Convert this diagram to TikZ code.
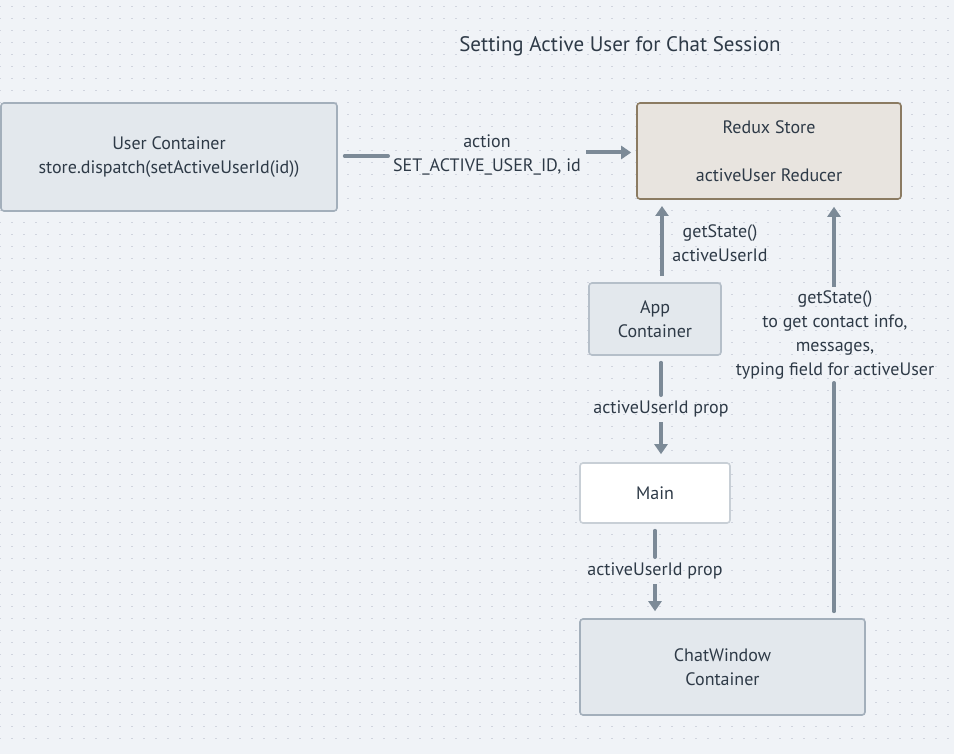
\documentclass[tikz,border=0pt]{standalone}
\usepackage{fontspec}
\setmainfont{PT Sans}
\usetikzlibrary{arrows.meta,calc}
\definecolor{bg}{HTML}{F0F3F7}
\definecolor{dotc}{HTML}{D0D4DE}
\definecolor{txt}{HTML}{2E3A47}
\definecolor{boxfill}{HTML}{E3E8ED}
\definecolor{boxline}{HTML}{A3AFBB}
\definecolor{redfill}{HTML}{E8E4DF}
\definecolor{redline}{HTML}{8B7B62}
\definecolor{arr}{HTML}{7C8A97}
\tikzset{
  box/.style={draw=boxline, fill=boxfill, line width=1.6pt, rounded corners=3pt, align=center,
    font=\fontsize{18}{24}\selectfont, text=txt, inner sep=0pt},
  lbl/.style={align=center, font=\fontsize{18}{24}\selectfont, text=txt, inner sep=0pt},
  conn/.style={draw=arr, line width=4pt, line cap=round},
  tip/.style={conn, line cap=butt, -{Triangle[length=10pt,width=13pt]}},
}
\begin{document}
\begin{tikzpicture}[x=1pt,y=-1pt]
\fill[bg] (0,0) rectangle (954,754);
\useasboundingbox (0,0) rectangle (954,754);
\foreach \yy in {6.5,18.5,...,750} {
  \draw[dotc, line width=1.2pt, dash pattern=on 1.2pt off 10.8pt] (-0.6,\yy) -- (954,\yy);
}
\node[lbl, font=\fontsize{21}{24}\selectfont] (title) at (620,46) {Setting Active User for Chat Session};

\node[box, minimum width=336pt, minimum height=108pt] (uc) at (169,157) {User Container\\store.dispatch(setActiveUserId(id))};
\node[box, draw=redline, fill=redfill, minimum width=264pt, minimum height=96pt] (rs) at (769,151) {Redux Store\\ \\activeUser Reducer};
\node[box, draw=boxline!80, minimum width=132pt, minimum height=72pt] (app) at (655,319) {App\\Container};
\node[box, draw=boxline!60, fill=white, minimum width=150pt, minimum height=60pt] (main) at (655,493) {Main};
\node[box, minimum width=285pt, minimum height=96pt] (cw) at (722.5,667) {ChatWindow\\Container};

\node[lbl] (act) at (487,155) {action\\SET\_ACTIVE\_USER\_ID, id};
\node[lbl] (gs1) at (720,243) {getState()\\activeUserId};
\node[lbl] (p1) at (661,409) {activeUserId prop};
\node[lbl] (p2) at (655,571) {activeUserId prop};
\node[lbl] (gs2) at (835,335) {getState()\\to get contact info,\\messages,\\typing field for activeUser};

% action arrow
\coordinate (a1) at ($(uc.east)+(7,-1)$);
\coordinate (a2) at (388,156);
\coordinate (a3) at (586,152.5);
\coordinate (a4) at ($(rs.west)+(0,1.5)$);
\draw[conn] (a1) -- (a2);
\draw[tip, shorten >=5pt] (a3) -- (a4);

% app -> redux
\coordinate (b1) at ($(app.north)+(7,-6)$);
\draw[tip] (b1) -- (b1 |- 0,206);

% app -> main
\coordinate (c1) at ($(app.south -| p1)+(0,7)$);
\draw[conn] (c1) -- (661,395);
\draw[tip] (661,422) -- ($(main.north -| p1)+(0,-8)$);

% main -> chatwindow
\coordinate (d1) at ($(main.south -| p2)+(0,7)$);
\draw[conn] (d1) -- (655,557);
\draw[tip] (655,584) -- ($(cw.north -| p2)+(0,-7)$);

% chatwindow -> redux
\coordinate (e1) at ($(cw.north -| gs2)+(-1,-7)$);
\draw[conn] (e1) -- (834,383);
\draw[tip] (834,287) -- ($(rs.south -| e1)+(0,7)$);
\end{tikzpicture}
\end{document}
